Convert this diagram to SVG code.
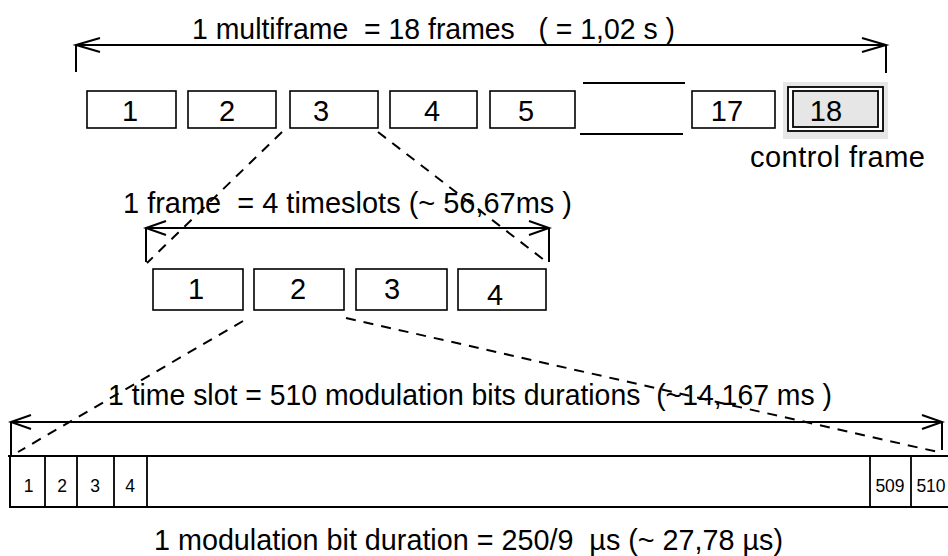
<svg xmlns="http://www.w3.org/2000/svg" width="948" height="556" viewBox="0 0 948 556">
<style>
text{font-family:"Liberation Sans",Arial,sans-serif;fill:#000}
.lbl{font-size:29px;white-space:pre}
.num{font-size:29px;text-anchor:middle}
.cell{font-size:17.5px;text-anchor:middle}
.box{fill:#fff;stroke:#000;stroke-width:1.6}
.ln{stroke:#000;stroke-width:2;fill:none}
.dash{stroke:#000;stroke-width:2;fill:none;stroke-dasharray:10 8}
</style>
<defs>
<marker id="ah" markerUnits="userSpaceOnUse" markerWidth="30" markerHeight="20" viewBox="-26 -10 30 20" refX="0" refY="0" orient="auto-start-reverse">
<path d="M-24,-7 L0,0 L-24,7" fill="none" stroke="#000" stroke-width="2"/>
</marker>
<marker id="ahs" markerUnits="userSpaceOnUse" markerWidth="30" markerHeight="20" viewBox="-26 -10 30 20" refX="0" refY="0" orient="auto-start-reverse">
<path d="M-20,-7 L0,0 L-20,7" fill="none" stroke="#000" stroke-width="2"/>
</marker>
</defs>
<rect width="948" height="556" fill="#fff"/>

<g id="labels">
<text class="lbl" x="192" y="39" textLength="483" lengthAdjust="spacingAndGlyphs">1 multiframe  = 18 frames   ( = 1,02 s )</text>
<text class="lbl" x="750" y="167" textLength="175" lengthAdjust="spacing">control frame</text>
<text class="lbl" x="123" y="213" textLength="449" lengthAdjust="spacingAndGlyphs">1 frame  = 4 timeslots (~ 56,67ms )</text>
<text class="lbl" x="108" y="405" textLength="724" lengthAdjust="spacingAndGlyphs">1 time slot = 510 modulation bits durations  (~14,167 ms )</text>
<text class="lbl" x="154" y="550" textLength="629" lengthAdjust="spacingAndGlyphs">1 modulation bit duration = 250/9  µs (~ 27,78 µs)</text>
</g>

<g id="frame1"><rect class="box" x="87" y="91" width="89" height="37"/><text class="num" x="130" y="121">1</text></g>
<g id="frame2"><rect class="box" x="188" y="91" width="88" height="37"/><text class="num" x="227" y="121">2</text></g>
<g id="frame3"><rect class="box" x="290" y="91" width="88" height="37"/><text class="num" x="321" y="121">3</text></g>
<g id="frame4"><rect class="box" x="390" y="91" width="87" height="37"/><text class="num" x="432" y="121">4</text></g>
<g id="frame5"><rect class="box" x="490" y="91" width="85" height="37"/><text class="num" x="526" y="121">5</text></g>
<g id="frame-gap"><line class="ln" x1="583" y1="83" x2="685" y2="83"/><line class="ln" x1="580" y1="134" x2="683" y2="134"/></g>
<g id="frame17"><rect class="box" x="692" y="91" width="83" height="37"/><text class="num" x="727" y="121">17</text></g>
<g id="frame18">
<rect x="783" y="82" width="105" height="57" fill="#e6e6e6"/>
<rect x="788" y="87" width="95" height="44" fill="#fff" stroke="#000" stroke-width="1.8"/>
<rect x="793" y="91" width="85" height="36" fill="#e6e6e6" stroke="#000" stroke-width="1.8"/>
<text class="num" x="826" y="121">18</text>
</g>

<g id="slot1"><rect class="box" x="153" y="269" width="90" height="41"/><text class="num" x="196" y="299">1</text></g>
<g id="slot2"><rect class="box" x="254" y="269" width="90" height="41"/><text class="num" x="298" y="299">2</text></g>
<g id="slot3"><rect class="box" x="356" y="269" width="91" height="41"/><text class="num" x="392" y="299">3</text></g>
<g id="slot4"><rect class="box" x="458" y="269" width="88" height="41"/><text class="num" x="495" y="305">4</text></g>

<g id="bits">
<path class="ln" d="M8,456 H948 M10,456 V507 H948"/>
<path d="M45,456V507M77,456V507M114,456V507M147,456V507M870,456V507M911,456V507" stroke="#000" stroke-width="1.8"/>
<text class="cell" x="28.5" y="492">1</text>
<text class="cell" x="62" y="492">2</text>
<text class="cell" x="95" y="492">3</text>
<text class="cell" x="130" y="492">4</text>
<text class="cell" x="890" y="492">509</text>
<text class="cell" x="931" y="492">510</text>
</g>

<g id="connectors">
<line class="ln" x1="76" y1="45" x2="886" y2="45" marker-start="url(#ah)" marker-end="url(#ah)"/>
<path class="ln" d="M76,45V72M886,45V73"/>
<line class="ln" x1="146" y1="228" x2="549" y2="228" marker-start="url(#ahs)" marker-end="url(#ahs)"/>
<path class="ln" d="M146,228V262M549,228V262"/>
<line class="ln" x1="11" y1="422" x2="942" y2="422" marker-start="url(#ahs)" marker-end="url(#ahs)"/>
<path class="ln" d="M11,422V456M942,422V450"/>
<line class="dash" x1="282" y1="132" x2="147" y2="263"/>
<line class="dash" x1="378" y1="132" x2="548" y2="263"/>
<line class="dash" x1="243" y1="321" x2="18" y2="452"/>
<line class="dash" x1="346" y1="318" x2="938" y2="452"/>
</g>
</svg>
